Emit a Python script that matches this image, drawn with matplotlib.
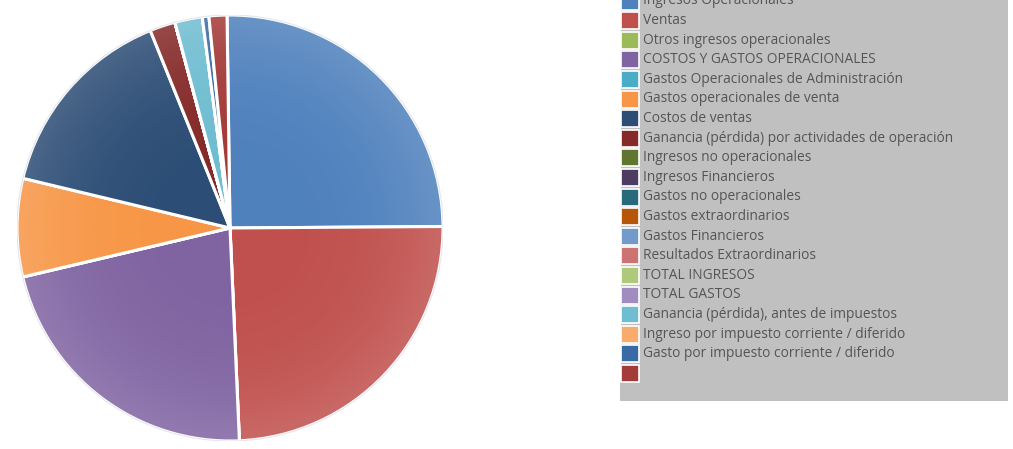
import matplotlib.pyplot as plt
import numpy as np
from matplotlib.patches import Rectangle, Circle

# Rubros del estado de resultados (porcentaje del total)
labels = [
    'Ingresos Operacionales',
    'Ventas',
    'Otros ingresos operacionales',
    'COSTOS Y GASTOS OPERACIONALES',
    'Gastos Operacionales de Administración',
    'Gastos operacionales de venta',
    'Costos de ventas',
    'Ganancia (pérdida) por actividades de operación',
    'Ingresos no operacionales',
    'Ingresos Financieros',
    'Gastos no operacionales',
    'Gastos extraordinarios',
    'Gastos Financieros',
    'Resultados Extraordinarios',
    'TOTAL INGRESOS',
    'TOTAL GASTOS',
    'Ganancia (pérdida), antes de impuestos',
    'Ingreso por impuesto corriente / diferido',
    'Gasto por impuesto corriente / diferido',
    '',
]
values = [25.1, 24.4, 0, 22.0, 0, 7.44, 15.14, 1.94, 0, 0,
          0, 0, 0, 0, 0, 0, 2.08, 0, 0.5, 1.36]
colors = ['#4f81bd', '#c0504d', '#9bbb59', '#8064a2', '#4bacc6', '#f79646',
          '#2c4d75', '#852a29', '#5f7530', '#4d3b62', '#276a7c', '#b65708',
          '#729aca', '#cd7371', '#afc97a', '#a08cbf', '#6fbdd1', '#f9ab6b',
          '#3a6aa6', '#a33b38']

plt.rcParams['font.family'] = ['Open Sans', 'DejaVu Sans']

W, H = 1013, 449
fig = plt.figure(figsize=(W / 100, H / 100), dpi=100)

# pie axes, centre (230, 228) px, radius 213 px
cx, cy, r = 230, 228, 213
ax = fig.add_axes([(cx - r) / W, (H - cy - r) / H, 2 * r / W, 2 * r / H])
wedges, _ = ax.pie(values, colors=colors, startangle=90.8, counterclock=False,
                   wedgeprops=dict(edgecolor='white', linewidth=2.2))
ax.set_xlim(-1, 1)
ax.set_ylim(-1, 1)

# soft lighter rim on the slices
yy, xx = np.mgrid[-1:1:300j, -1:1:300j]
rr = np.sqrt(xx ** 2 + yy ** 2)
shade = np.zeros((300, 300, 4))
shade[..., :3] = 1.0
shade[..., 3] = 0.15 * np.clip(rr, 0, 1) ** 3
img = ax.imshow(shade, extent=(-1, 1, -1, 1), origin='lower', zorder=3)
img.set_clip_path(Circle((0, 0), 1, transform=ax.transData))
ax.add_patch(Circle((0, 0), 1.0, fill=False, edgecolor='#e6e6ee', lw=0.8, zorder=4))

# legend panel in pixel coordinates
lax = fig.add_axes([0, 0, 1, 1])
lax.set_xlim(0, W)
lax.set_ylim(H, 0)
lax.axis('off')
lax.add_patch(Rectangle((620, -10), 388, 411, facecolor='#c0c0c0', edgecolor='none'))
lax.add_patch(Rectangle((617, -10), 4, 392, facecolor='white', edgecolor='none'))

row0, step = 1.0, 19.6
for i, (lab, col) in enumerate(zip(labels, colors)):
    y = row0 + step * i
    lax.add_patch(Rectangle((621, y - 8.5), 18, 17, facecolor=col,
                            edgecolor='white', linewidth=1.2))
    lax.text(643, y, lab, fontsize=9.9, color='#555555', va='center', ha='left')

fig.savefig('out.png', dpi=100)
